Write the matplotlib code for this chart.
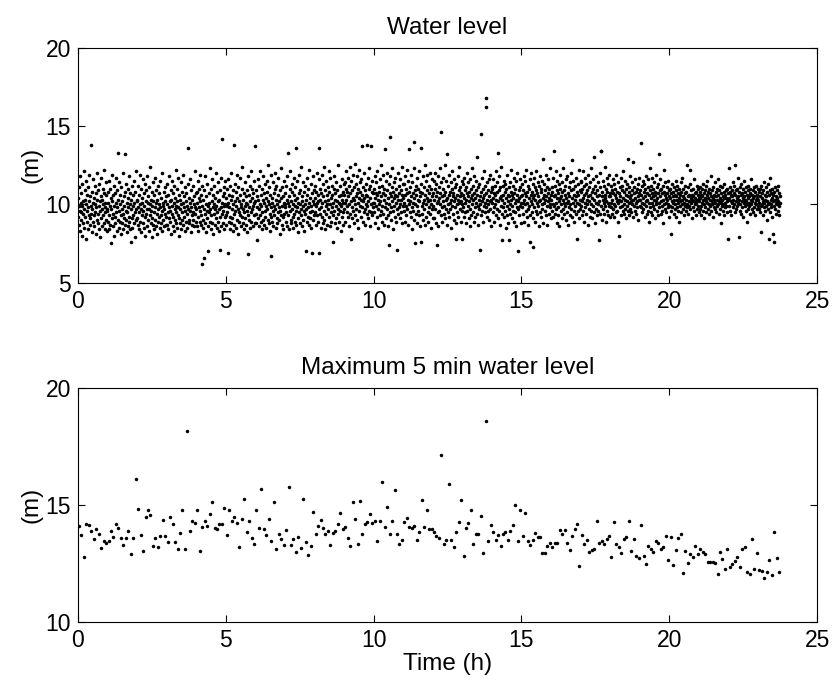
import numpy as np
import matplotlib
matplotlib.use("Agg")
import matplotlib.pyplot as plt

plt.rcParams['font.family'] = ['Liberation Sans', 'DejaVu Sans']

# Water level samples in tenths of a metre, 90 samples per hour (one block per hour)
level_dm = [
    # hour 0
    104,92,87,111,99,83,96,118,101,90, 107,95,80,99,113,102,88,94,121,97,
    85,103,109,92,100,78,115,96,89,106, 98,111,84,93,102,119,91,87,105,99,
    138,94,82,108,97,101,116,89,93,104, 86,100,112,95,81,107,98,90,120,103,
    94,88,109,99,84,113,96,102,79,105, 91,117,97,86,103,110,93,100,88,107,
    122,95,84,101,98,114,90,106,83,97,
    # hour 1
    96,108,89,101,115,84,93,110,99,87, 104,75,97,119,91,102,86,106,94,112,
    80,99,107,92,88,117,101,95,83,109, 98,133,90,103,85,96,114,100,89,106,
    93,81,111,97,102,88,120,94,84,105, 99,91,132,108,87,96,113,90,101,82,
    95,110,98,86,104,92,118,89,100,107, 84,76,97,103,112,91,85,99,106,93,
    115,88,101,95,79,108,97,121,90,102,
    # hour 2
    91,103,87,112,98,84,106,95,119,100, 89,97,110,82,104,93,101,116,88,96,
    107,85,99,113,92,80,102,94,109,97, 86,118,101,90,105,83,97,111,93,100,
    124,88,96,103,79,108,99,91,114,87, 102,95,84,106,98,117,90,101,86,109,
    94,81,103,97,112,89,100,92,107,85, 98,115,93,104,88,96,120,83,101,99,
    90,108,86,97,111,94,102,87,105,92,
    # hour 3
    100,87,113,95,84,106,98,91,118,102, 89,96,109,81,103,94,115,99,86,107,
    92,101,83,112,97,90,104,122,88,99, 95,110,85,102,93,117,98,80,106,91,
    103,88,97,114,100,84,108,95,90,101, 119,87,98,105,92,111,83,96,102,89,
    107,94,99,85,113,97,136,90,104,88, 101,96,116,82,98,109,93,87,103,95,
    112,90,100,86,105,121,94,98,89,107,
    # hour 4
    97,108,86,101,115,92,83,104,98,110, 89,96,119,102,87,93,106,99,62,112,
    90,85,103,66,97,109,94,118,88,100, 105,82,96,113,91,99,86,70,107,95,
    101,123,89,97,84,110,93,102,116,88, 98,106,81,94,100,112,87,97,104,91,
    120,99,85,108,95,102,89,114,97,83, 103,92,109,71,98,86,117,101,142,94,
    88,105,96,111,84,99,107,92,100,115,
    # hour 5
    93,104,87,110,99,95,69,116,101,89, 106,98,84,112,92,103,120,88,97,105,
    91,83,109,100,138,94,87,113,102,96, 108,85,99,119,90,104,97,81,111,95,
    102,89,106,93,117,98,86,100,110,92, 124,97,88,103,95,84,107,99,114,91,
    101,87,105,96,82,109,100,93,118,68, 98,106,90,112,85,102,95,121,89,104,
    97,110,86,99,107,93,115,101,88,137,
    # hour 6
    102,94,109,88,77,105,98,116,91,103, 97,86,112,100,93,121,89,106,99,84,
    110,95,103,118,90,101,87,107,96,113, 92,104,85,99,115,97,108,90,102,125,
    88,100,111,94,83,106,67,98,119,92, 104,89,101,114,96,86,107,99,93,110,
    120,97,85,103,112,91,100,88,106,95, 117,102,90,98,81,109,96,104,123,93,
    87,111,99,92,105,84,101,115,94,100,
    # hour 7
    98,107,89,112,95,103,86,118,101,133, 93,105,99,84,110,96,121,90,102,88,
    108,97,113,92,100,85,106,117,94,99, 103,89,111,96,136,87,104,98,115,91,
    101,82,107,95,119,100,88,109,97,93, 124,102,86,105,99,114,90,96,108,83,
    100,112,94,70,103,97,117,89,106,92, 98,110,87,101,122,95,104,91,113,99,
    85,69,107,96,102,118,90,100,93,109,
    # hour 8
    104,95,112,99,87,108,101,120,93,106, 89,102,116,136,97,69,110,94,103,85,
    107,98,119,92,101,88,113,105,96,124, 90,102,109,84,99,115,94,106,100,87,
    111,97,103,121,92,108,86,100,117,95, 104,89,112,98,106,76,101,93,110,96,
    118,88,103,107,91,99,114,102,85,109, 97,125,94,101,89,105,112,96,100,83,
    106,99,116,92,103,108,87,101,95,113,
    # hour 9
    106,97,114,101,89,110,103,121,95,108, 99,117,92,105,86,112,100,124,94,107,
    102,78,115,98,109,91,104,119,96,111, 88,103,126,100,93,113,105,97,118,90,
    107,101,110,85,104,122,96,108,99,114, 92,103,116,98,106,137,89,111,102,95,
    120,104,97,109,87,113,100,106,94,138, 105,99,117,91,102,110,96,123,86,104,
    112,100,95,137,108,93,115,101,98,107,
    # hour 10
    101,110,95,118,104,88,107,99,114,92, 106,121,97,103,85,111,100,108,93,116,
    102,96,125,105,89,112,99,107,94,119, 103,87,110,98,135,106,91,115,101,97,
    109,120,93,104,86,74,113,100,107,95, 118,143,98,105,90,111,102,123,96,108,
    84,104,114,99,106,92,117,101,89,110, 97,105,71,120,94,103,112,98,107,91,
    116,100,95,109,103,124,88,106,99,113,
    # hour 11
    104,96,113,101,89,118,106,99,110,93, 107,122,97,103,115,87,108,100,135,95,
    111,102,92,119,105,98,84,114,101,107, 96,123,90,104,140,109,75,100,112,94,
    106,99,117,88,103,110,96,121,102,93, 108,86,105,136,76,113,99,107,94,118,
    101,90,111,103,97,125,87,106,115,100, 92,109,104,119,95,102,89,112,98,107,
    120,94,103,85,110,100,116,97,105,91,
    # hour 12
    107,99,115,103,91,110,120,97,105,88, 113,101,74,108,95,118,102,86,111,104,
    96,123,100,107,93,146,114,98,105,89, 110,102,117,94,106,99,125,91,108,103,
    97,115,87,104,132,100,112,95,106,119, 92,108,101,97,114,85,103,110,99,121,
    105,94,107,116,90,102,111,98,104,88, 78,113,100,106,95,118,103,92,109,101,
    124,97,105,111,89,102,107,96,115,100,
    # hour 13
    78,106,113,98,104,117,92,109,101,95, 111,103,88,107,120,96,105,99,114,91,
    108,102,97,116,86,104,110,93,106,123, 100,95,112,103,89,107,118,98,104,92,
    109,101,115,94,106,130,99,87,111,103, 97,113,105,71,100,108,93,145,102,117,
    96,104,110,89,106,99,121,95,112,101, 168,162,98,107,92,114,103,96,109,100,
    116,90,105,102,119,97,108,86,103,111,
    # hour 14
    101,110,95,116,104,98,107,89,112,100, 106,121,93,103,114,97,108,133,102,91,
    109,96,118,104,87,111,99,105,124,94, 103,77,112,98,106,115,92,101,108,96,
    113,85,104,110,99,119,93,106,102,88, 111,97,105,77,100,114,94,108,103,122,
    91,106,99,112,96,104,117,89,107,101, 95,110,103,86,115,98,106,120,70,102,
    97,109,93,104,111,99,116,88,105,101,
    # hour 15
    106,98,113,101,94,109,118,103,89,107, 100,115,96,105,122,92,108,101,97,112,
    87,104,110,99,116,93,76,106,102,120, 95,108,100,113,91,73,104,117,98,106,
    111,89,103,109,96,121,101,94,107,114, 99,105,86,112,102,95,118,103,108,92,
    110,100,97,115,104,88,129,106,101,113, 96,109,103,119,93,105,99,111,87,107,
    102,116,94,104,110,98,123,100,106,91,
    # hour 16
    103,111,96,108,100,117,92,134,105,99, 112,94,106,101,121,97,109,88,104,115,
    98,107,93,113,102,86,110,104,119,96, 105,100,114,91,108,103,97,123,101,109,
    94,112,99,106,116,90,104,101,118,95, 107,102,87,111,98,105,114,93,100,109,
    120,97,128,104,92,110,101,115,96,106, 89,112,103,99,117,94,105,78,108,101,
    113,96,106,100,122,91,109,103,97,114,
    # hour 17
    99,108,115,102,93,110,104,121,96,106, 112,89,101,117,98,107,94,113,103,100,
    109,87,105,119,97,111,102,92,106,114, 100,96,123,104,108,91,110,99,116,95,
    103,130,107,88,112,101,97,118,105,93, 109,100,114,96,77,106,102,120,94,111,
    134,99,134,105,90,108,103,115,97,101, 112,94,106,124,99,104,89,110,102,117,
    96,108,101,93,113,105,99,119,92,107,
    # hour 18
    105,98,112,101,94,109,103,116,97,107, 100,113,92,106,99,110,104,119,95,102,
    108,96,114,101,89,107,103,80,111,98, 105,117,93,102,109,99,112,96,104,121,
    100,94,108,103,115,97,106,91,110,102, 99,113,105,96,129,101,108,93,111,104,
    97,118,102,106,95,109,100,114,127,103, 92,107,99,111,104,96,116,101,108,94,
    110,102,98,113,105,90,107,103,117,99,
    # hour 19
    103,109,139,98,106,112,95,101,115,104, 97,108,100,113,92,105,110,99,118,102,
    94,107,103,111,96,116,101,89,106,109, 123,98,104,112,95,107,101,117,93,105,
    110,99,103,114,97,108,91,106,102,119, 100,96,111,104,107,93,113,132,101,98,
    109,105,116,94,102,110,99,107,96,112, 103,88,108,122,100,106,97,114,104,101,
    95,111,103,107,98,115,100,92,109,105,
    # hour 20
    104,99,110,96,81,107,102,113,98,105, 101,108,94,111,103,97,106,100,115,92,
    105,109,98,103,112,96,107,101,89,110, 104,99,106,102,114,95,108,103,117,100,
    97,105,110,93,104,101,107,99,112,96, 103,108,100,125,98,105,111,94,102,106,
    99,113,122,97,104,101,109,91,106,103, 110,98,105,102,116,96,107,100,104,93,
    108,101,112,97,103,106,99,110,95,104,
    # hour 21
    102,108,97,111,104,99,106,93,110,101, 105,96,113,103,100,107,91,109,104,98,
    112,102,95,106,101,115,97,104,108,100, 94,110,103,99,107,118,96,105,102,109,
    100,104,92,111,98,106,103,114,97,101, 108,95,105,110,99,103,116,100,106,94,
    102,109,97,104,112,101,88,107,103,99, 111,96,105,100,108,93,104,113,98,106,
    101,109,99,104,95,110,102,107,78,103,
    # hour 22
    104,123,99,108,96,111,102,106,93,109, 101,105,114,98,103,107,100,112,125,95,
    106,102,109,97,104,110,99,117,101,105, 79,108,103,96,111,100,106,94,113,102,
    98,107,104,110,92,105,101,115,99,103, 108,96,111,102,106,100,89,109,104,97,
    112,101,105,99,107,94,110,103,116,100, 97,106,102,109,95,104,111,98,105,101,
    108,93,103,112,100,106,97,104,110,99,
    # hour 23 (partial)
    103,97,108,101,110,95,105,99,112,82, 104,100,107,93,109,102,98,114,101,106,
    96,103,111,99,105,90,108,102,97,113, 100,78,106,101,109,95,117,103,98,107,
    100,104,92,110,81,102,106,99,76,108, 103,97,111,101,94,105,109,100,104,96,
    112,102,99,107,93,105,101,
]

# Maximum water level over each 5-minute window (m), 12 windows per hour
max5_level = [
    14.11,13.69,12.79,14.20,14.16,13.87,13.53,13.97,13.74,13.16,
    13.46,13.36,13.46,13.90,13.63,14.17,14.00,13.60,13.27,13.57,
    13.89,12.90,13.60,16.10,14.83,13.70,13.03,14.50,14.76,14.57,
    13.23,13.59,13.20,13.66,14.34,13.66,13.43,14.49,14.20,13.42,
    13.13,13.79,14.79,13.13,18.17,13.87,14.29,14.21,14.76,13.02,
    14.06,14.31,14.10,14.60,15.13,13.99,13.96,14.17,14.17,14.86,
    13.70,14.80,14.29,14.50,14.23,13.19,14.40,15.24,13.86,14.29,
    13.60,13.32,14.76,13.99,15.66,13.96,
    13.69,14.39,13.47,15.13,13.13,13.74,13.54,13.30,13.94,15.77,
    13.30,13.54,13.00,13.63,13.17,15.24,13.42,12.87,13.24,14.69,
    13.74,14.11,14.34,13.99,13.74,13.89,13.29,13.79,13.90,14.19,
    14.66,13.96,14.06,13.60,13.23,15.13,14.39,13.32,15.17,13.74,
    14.19,14.27,14.63,14.23,14.29,13.47,14.31,15.97,14.04,14.93,
    13.77,14.33,15.63,13.74,13.33,13.51,14.26,14.43,14.06,13.99,
    14.09,13.49,13.83,15.20,14.06,14.79,13.96,13.96,13.83,13.66,13.60,17.13,13.32,
    13.51,15.91,13.50,13.20,13.86,14.26,15.19,12.83,14.00,14.24,
    14.79,13.34,13.77,13.76,14.54,12.94,18.61,13.44,14.16,13.83,
    13.51,13.70,13.26,13.74,13.84,13.49,13.89,14.13,14.99,13.46,
    14.76,13.67,14.67,13.46,13.27,13.50,13.79,13.64,13.63,12.92,
    12.93,13.26,13.39,13.19,13.39,13.36,13.93,13.76,13.94,13.39,
    13.09,13.66,13.96,14.19,12.37,13.70,13.34,13.51,13.00,13.06,
    13.11,14.33,13.39,13.44,13.32,13.54,13.66,12.79,14.26,13.34,13.21,12.94,13.56,
    13.64,14.31,13.02,13.53,12.83,12.74,14.16,12.83,12.47,13.24,
    13.11,12.97,13.44,13.36,13.11,13.19,13.66,12.63,13.64,12.43,
    13.09,13.59,13.74,12.10,13.03,12.53,12.90,12.79,13.23,12.90,
    13.10,12.99,12.89,12.56,12.56,12.54,12.50,12.06,12.99,12.69,
    12.24,13.11,12.36,12.46,12.60,12.79,12.36,13.10,13.21,12.14,
    12.06,13.56,12.24,12.93,12.22,12.19,11.89,12.12,12.64,11.99,13.84,12.73,12.14,
]

level_samples_per_hour = 90
max_windows_per_hour = 12

titles = ["Water level", "Maximum 5 min water level"]
x_ticks = [0, 5, 10, 15, 20, 25]
y_ticks_top = [5, 10, 15, 20]
y_ticks_bottom = [10, 15, 20]

level = np.array(level_dm) / 10.0
t_level = (np.arange(len(level)) + 0.5) / level_samples_per_hour
max5 = np.array(max5_level)
t_max5 = (np.arange(len(max5)) + 0.5) / max_windows_per_hour

fig = plt.figure(figsize=(8.32, 6.81), dpi=100)
ax1 = fig.add_axes([0.0934, 0.585, 0.889, 0.345])
ax2 = fig.add_axes([0.0934, 0.0871, 0.889, 0.343])

ax1.plot(t_level, level, linestyle='none', marker='o', markersize=2.6,
         markeredgewidth=0, color='black')
ax2.plot(t_max5, max5, linestyle='none', marker='o', markersize=2.5,
         markeredgewidth=0, color='black')

for ax, title in zip((ax1, ax2), titles):
    ax.set_xlim(0, 25)
    ax.set_xticks(x_ticks)
    ax.tick_params(direction='in', top=True, right=True, length=5, width=0.8,
                   labelsize=16.5, pad=5)
    for s in ax.spines.values():
        s.set_linewidth(0.8)
    ax.set_title(title, fontsize=17.5, pad=10)
    ax.set_ylabel('(m)', fontsize=17.5, labelpad=2)

ax1.set_ylim(5, 20)
ax1.set_yticks(y_ticks_top)
ax2.set_ylim(10, 20)
ax2.set_yticks(y_ticks_bottom)
ax2.set_xlabel('Time (h)', fontsize=17.5, labelpad=1)

fig.savefig('out.png', dpi=100)
